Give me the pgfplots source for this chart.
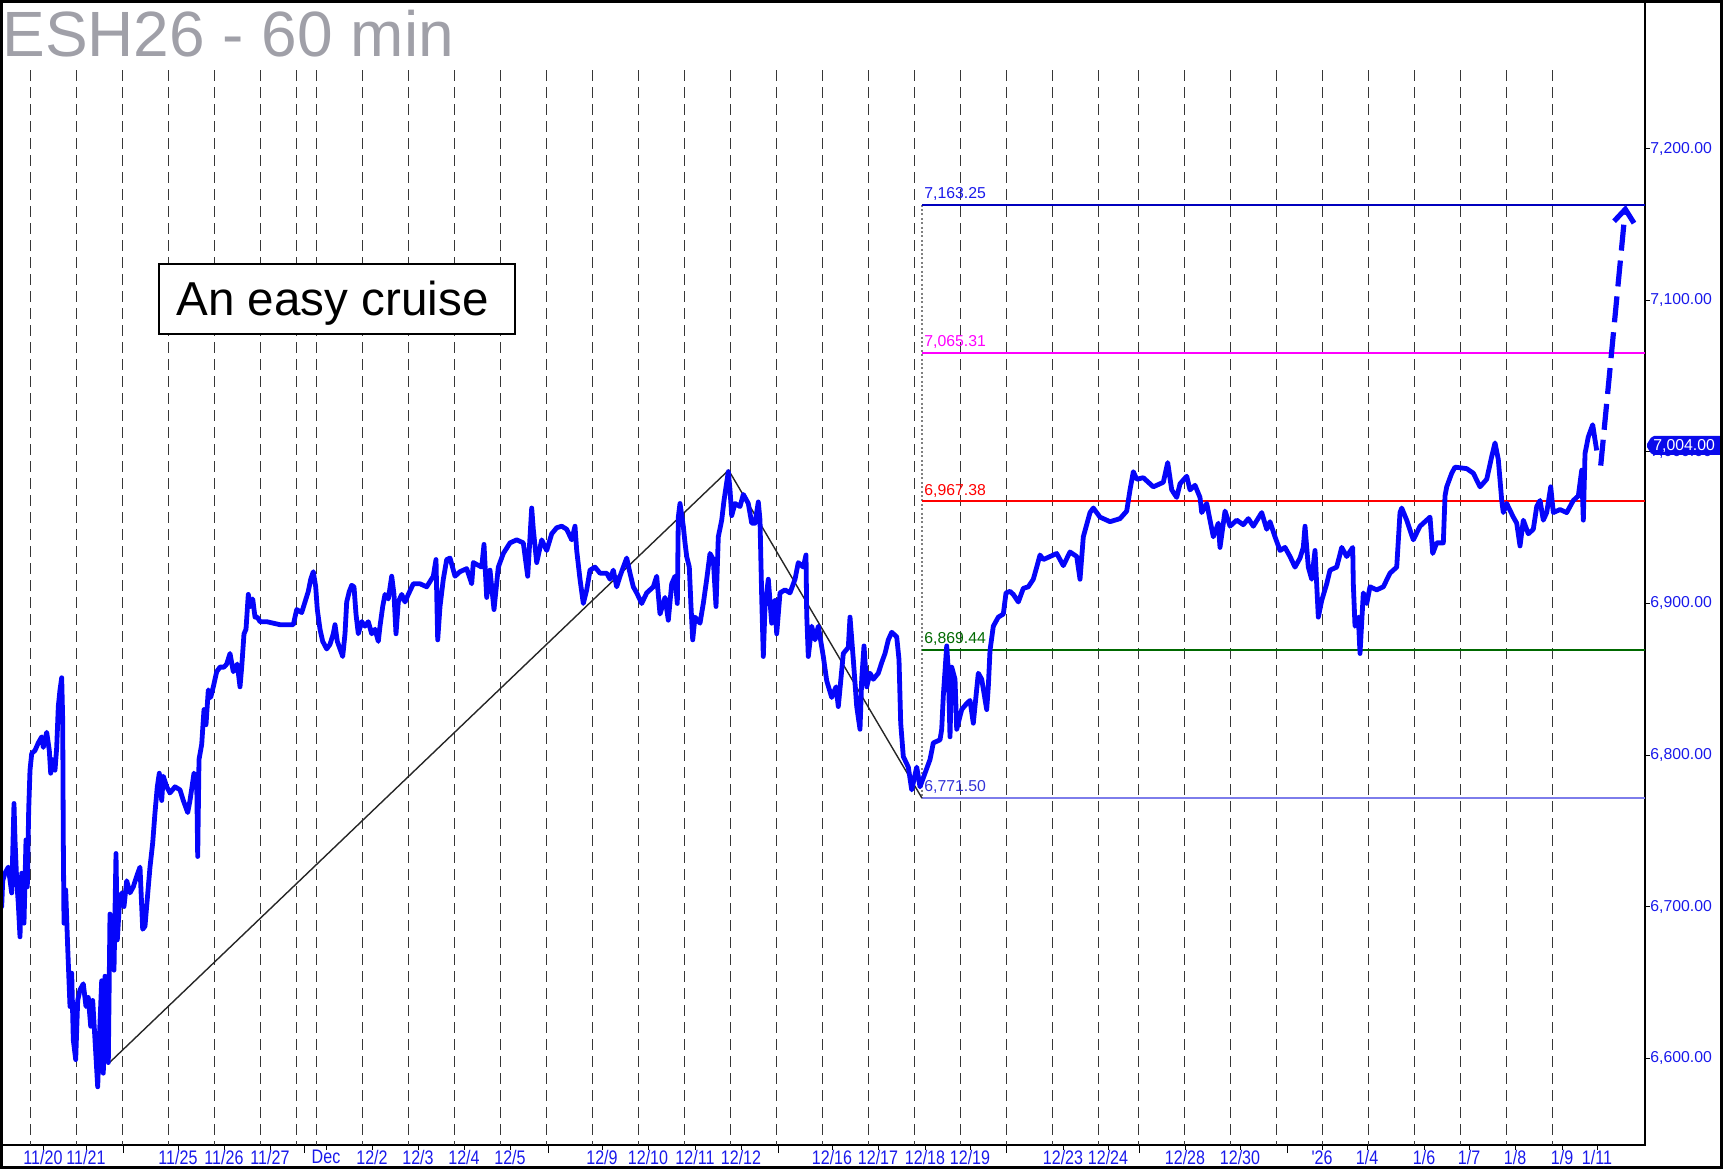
\documentclass[border=0pt]{standalone}
\usepackage{fontspec}
\setmainfont{Liberation Sans}
\newfontfamily\arial{Liberation Sans}
\newfontfamily\narrow[FakeStretch=0.82]{Liberation Sans}
\usepackage{pgfplots}
\pgfplotsset{compat=1.18}
\usetikzlibrary{arrows.meta}
\definecolor{dblue}{RGB}{5,5,250}
\definecolor{lblblue}{RGB}{25,25,235}
\definecolor{titlegray}{RGB}{160,160,168}
\definecolor{gridc}{RGB}{55,55,55}
\definecolor{lvlblue}{RGB}{0,0,190}
\definecolor{lvlmag}{RGB}{255,0,255}
\definecolor{lvlred}{RGB}{255,0,0}
\definecolor{lvlgreen}{RGB}{0,105,0}
\definecolor{lvllow}{RGB}{125,125,235}
\definecolor{lowtxt}{RGB}{50,50,215}
\definecolor{tagblue}{RGB}{10,10,235}
\begin{document}
\begin{tikzpicture}
\useasboundingbox (0,0) rectangle (861.5pt,584.5pt);
\begin{axis}[
  at={(0pt,12pt)}, anchor=south west,
  scale only axis, width=822.5pt, height=572.5pt,
  xmin=0, xmax=1645, ymin=6542.6, ymax=7298.3,
  axis line style={line width=0.6pt},
  tick align=outside,
  xtick pos=lower, ytick pos=right, yticklabel pos=right,
  major tick length=2.5pt,
  tick style={black, line width=0.5pt},
  xtick={43,86,178,224,270,326,372,418,464,510,602,648,695,741,832,878,925,970,1063,1108,1185,1240,1322,1367,1424,1469,1515,1562,1597},
  xticklabels={11/20,11/21,11/25,11/26,11/27,Dec,12/2,12/3,12/4,12/5,12/9,12/10,12/11,12/12,12/16,12/17,12/18,12/19,12/23,12/24,12/28,12/30,'26,1/4,1/6,1/7,1/8,1/9,1/11},
  xticklabel style={font=\narrow\fontsize{9.8}{10}\selectfont, text=lblblue, inner sep=0pt, anchor=north},
  extra x ticks={123,304,548,778,1006,1139,1287},
  extra x tick labels={},
  extra x tick style={major tick length=4pt},
  ytick={6600,6700,6800,6900,7000,7100,7200},
  yticklabel={\pgfmathprintnumber[fixed,fixed zerofill,precision=2,1000 sep={,},assume math mode=true]{\tick}},
  yticklabel style={font=\arial\fontsize{7.9}{9}\selectfont, text=lblblue, inner sep=0pt, anchor=west},
  scaled y ticks=false,
  clip=true,
]
% vertical session grid
\pgfplotsinvokeforeach{30.7,76.7,122.7,168.7,214.7,260.7,296.3,316.3,362.3,408.3,454.3,500.3,546.3,592.3,638.3,684.3,730.3,776.3,822.3,868.3,914.3,960.3,1006.3,1052.3,1098.3,1138.3,1184.3,1230.3,1276.3,1322.3,1368.3,1414.3,1460.3,1506.3,1552.3}{
  \draw[gridc, line width=0.55pt, dash pattern=on 5.5pt off 3pt] (axis cs:#1,7252) -- (axis cs:#1,6542.6);
}
% dotted vertical at C
\draw[gray, line width=0.8pt, dash pattern=on 1pt off 1.2pt] (axis cs:922,7163.25) -- (axis cs:922,6771.5);
% level lines
\addplot[lvlblue, line width=1pt] coordinates {(922,7163.25) (1645,7163.25)};
\addplot[lvlmag, line width=1pt] coordinates {(922,7065.31) (1645,7065.31)};
\addplot[lvlred, line width=1pt] coordinates {(922,6967.38) (1645,6967.38)};
\addplot[lvlgreen, line width=1pt] coordinates {(922,6869.44) (1645,6869.44)};
\addplot[lvllow, line width=1pt] coordinates {(922,6771.5) (1645,6771.5)};
% ABC line
\addplot[black!85, line width=0.7pt] coordinates {(108.3,6596.25) (728.6,6988) (922,6771.5)};
% price
\addplot[dblue, line width=2.4pt, line join=round] table {
x y
0 6705
1.7 6700
2.7 6717
5 6722
8.3 6726
11.7 6709
14 6768
15 6744
16.7 6717
18.3 6702
20 6680
21.7 6722
24 6689
26 6744
27.3 6713
28.7 6764
30 6790
31.7 6801
35 6803
38.3 6808
41.7 6812
43.3 6805
46.7 6815
49.3 6803
50.7 6788
52.7 6797
55 6790
56.7 6805
58.3 6832
60 6843
61.7 6851
62.7 6823
63.3 6744
64 6689
65.7 6711
67.7 6673
70 6634
71.7 6656
73.3 6612
75.7 6599
77.7 6638
80 6645
83.3 6649
86 6634
88.3 6640
90.7 6621
92.7 6638
95 6612
97.7 6581
99.3 6612
101.7 6651
103.3 6590
105 6654
106.7 6634
108.3 6597
110 6695
111.7 6682
114 6658
116 6735
117.3 6678
119.3 6700
121.7 6709
124 6700
126.7 6717
130 6709
133.3 6713
136.7 6720
140 6726
142.7 6685
145 6687
148.3 6713
150 6726
152.7 6742
155 6762
157.3 6779
159.3 6788
161.7 6770
163.3 6786
166.7 6779
170 6775
175 6779
180 6777
183.3 6770
187.7 6762
190 6770
194 6788
196.7 6784
197.7 6733
199 6797
201.7 6807
204 6830
206 6820
208.3 6843
210.7 6838
213.3 6845
216.7 6855
220 6858
224 6858
226.7 6860
230 6867
233.3 6855
237.3 6860
240 6845
241.7 6858
244 6880
246 6883
248.3 6906
250.7 6898
252.7 6903
255 6891
257.3 6891
260 6888
266.7 6888
273.3 6887
280 6886
286.7 6886
293.3 6886
296.7 6896
301.7 6894
305 6901
308.3 6908
310.7 6916
313.3 6921
315.7 6911
317.3 6896
320 6883
322.7 6875
326.7 6870
330 6873
333.3 6880
335 6886
337.3 6875
340 6870
342.7 6865
345 6880
346.7 6901
349.3 6908
351.7 6912
354 6911
356 6893
358.3 6880
361.7 6888
365 6885
368.3 6888
371.7 6880
375 6883
378.3 6875
380 6885
382.7 6898
385 6906
388.3 6903
391.7 6918
394 6906
396 6880
398.3 6901
401.7 6906
405 6901
408.3 6906
413.3 6913
420 6913
426.7 6911
433.3 6918
436 6929
437.7 6876
440 6898
443.3 6916
446.7 6929
450 6930
455 6918
460 6921
466.7 6923
471.7 6913
473.3 6927
481.7 6924
484 6939
486.7 6904
490 6922
494 6896
498.3 6924
503.3 6933
510 6940
516.7 6942
523.3 6940
527.7 6918
531.7 6963
533.3 6949
536.7 6927
541.7 6942
546.7 6935
551.7 6946
556.7 6950
561.7 6951
566.7 6949
571.7 6942
575 6951
576.7 6935
580 6916
583.3 6900
586.7 6909
590 6922
595 6924
600 6920
606.7 6920
610 6916
613.3 6922
616.7 6911
620 6918
623.3 6924
626.7 6930
630 6920
633.3 6911
636.7 6907
641.7 6900
646.7 6907
653.3 6911
656.7 6918
660 6893
665 6904
668.3 6889
671.7 6913
675 6918
677.3 6900
678.3 6957
680 6966
683.3 6951
685 6940
686.7 6931
689.3 6924
691 6898
692.7 6876
695 6891
700 6887
703.3 6900
706.7 6916
710 6933
713.3 6929
716 6898
718.3 6944
721.7 6955
724 6968
728.3 6987
730 6975
731.7 6958
735 6966
740 6964
743.3 6972
748.3 6966
751.7 6953
755 6953
758.3 6967
760 6955
761.7 6904
763.3 6865
765 6898
768.3 6916
771.7 6887
775 6902
776.7 6880
780 6907
785 6909
790 6907
795 6916
798.3 6927
803.3 6924
806 6932
806.7 6893
808.3 6865
811.7 6885
815 6876
818.3 6885
823.3 6865
826.7 6849
831.7 6838
836 6845
838.3 6832
843.3 6867
848.3 6871
850 6891
853.3 6863
856.7 6832
860 6817
861.7 6850
864 6872
866.7 6845
870 6854
873.3 6850
878.3 6854
881.7 6861
885 6867
888.3 6876
891.7 6881
896.7 6878
899 6863
900.7 6821
903.3 6799
908.3 6792
911.7 6777
916.7 6792
920 6779
925 6788
930 6797
933.3 6808
940 6810
941.7 6817
943.3 6839
946.7 6872
948.3 6856
950 6812
951.7 6858
955 6850
956.7 6817
961.7 6830
966.7 6834
970 6836
973.3 6821
978.3 6854
981.7 6850
986.7 6830
988.3 6845
990 6869
993.3 6885
998.3 6891
1003.3 6893
1006 6907
1010 6908
1013.3 6906
1018.3 6901
1023.3 6910
1028.3 6911
1033.3 6916
1036.7 6924
1040 6932
1043.3 6929
1050 6931
1056.7 6933
1063.3 6925
1070 6934
1076.7 6931
1080 6916
1083.3 6944
1090 6960
1093.3 6963
1100 6957
1110 6954
1120 6956
1126.7 6961
1130 6975
1133.3 6987
1136.7 6982
1143.3 6983
1153.3 6977
1163.3 6980
1167.7 6993
1171.7 6975
1176.7 6970
1180 6979
1186.7 6984
1190 6975
1195 6978
1200 6970
1201.7 6960
1206.7 6966
1213.3 6944
1218.3 6953
1220 6937
1225 6961
1230 6951
1236.7 6955
1243.3 6952
1248.3 6956
1253.3 6951
1261.7 6960
1266.7 6949
1270 6954
1275 6944
1280 6935
1285 6937
1290 6931
1295 6924
1300 6930
1303.3 6937
1305 6951
1308.3 6924
1311.7 6916
1315 6935
1318.3 6891
1321.7 6902
1326.7 6913
1330 6922
1336.7 6924
1341.7 6937
1346.7 6931
1352.7 6937
1353.3 6913
1355 6885
1358.3 6891
1360 6867
1363.3 6907
1366.7 6900
1370 6911
1376.7 6909
1383.3 6911
1390 6920
1396.7 6924
1400 6960
1401.7 6963
1406.7 6955
1413.3 6942
1420 6951
1430 6957
1432.7 6933
1436.7 6940
1443.3 6940
1445 6971
1446.7 6977
1451.7 6986
1455 6990
1466.7 6989
1473.3 6986
1480 6977
1486.7 6982
1491.7 6997
1495 7006
1498.3 6995
1501.7 6968
1503.3 6960
1506.7 6966
1513.3 6957
1516.7 6953
1520 6938
1523.3 6955
1528.3 6946
1533.3 6949
1536.7 6964
1540 6968
1543.3 6955
1546.7 6960
1550.7 6977
1553.3 6960
1560 6962
1566.7 6960
1573.3 6968
1578.3 6971
1581.7 6988
1583.3 6955
1585 6999
1588.3 7010
1592.7 7018
1595 7008
1596.7 7001
};
% projection arrow
\addplot[dblue, line width=2.6pt, dash pattern=on 13pt off 5pt, -{Straight Barb[length=6.5pt,width=10pt]}] coordinates {(1600.7,6991) (1625.7,7163)};
% level labels
\node[anchor=south west, inner sep=0pt, text=lblblue, font=\arial\fontsize{7.9}{9}\selectfont] at (axis cs:924,7166) {7,163.25};
\node[anchor=south west, inner sep=0pt, text=lvlmag, font=\arial\fontsize{7.9}{9}\selectfont] at (axis cs:924,7068) {7,065.31};
\node[anchor=south west, inner sep=0pt, text=lvlred, font=\arial\fontsize{7.9}{9}\selectfont] at (axis cs:924,6970) {6,967.38};
\node[anchor=south west, inner sep=0pt, text=lvlgreen, font=\arial\fontsize{7.9}{9}\selectfont] at (axis cs:924,6872) {6,869.44};
\node[anchor=south west, inner sep=0pt, text=lowtxt, font=\arial\fontsize{7.9}{9}\selectfont] at (axis cs:924,6774) {6,771.50};
\end{axis}
% title
\node[anchor=base west, inner sep=0pt, text=titlegray, font=\arial\fontsize{32}{36}\selectfont] at (1pt,556pt) {ESH26 - 60 min};
% annotation box
\draw[black, line width=1pt, fill=white] (79.5pt,417.5pt) rectangle (257.5pt,452.5pt);
\node[anchor=base west, inner sep=0pt, font=\arial\fontsize{23.8}{26}\selectfont] at (88pt,426.75pt) {An easy cruise};
% last price tag
\fill[tagblue, rounded corners=1pt] (823pt,361.75pt) -- (826pt,366.5pt) -- (861.5pt,366.5pt) -- (861.5pt,357pt) -- (826pt,357pt) -- cycle;
\node[anchor=west, inner sep=0pt, text=white, font=\arial\fontsize{7.9}{9}\selectfont] at (826.5pt,361.75pt) {7,004.00};
% outer frame
\draw[black, line width=1.6pt] (0.8pt,0.8pt) rectangle (860.7pt,583.7pt);
\end{tikzpicture}
\end{document}
